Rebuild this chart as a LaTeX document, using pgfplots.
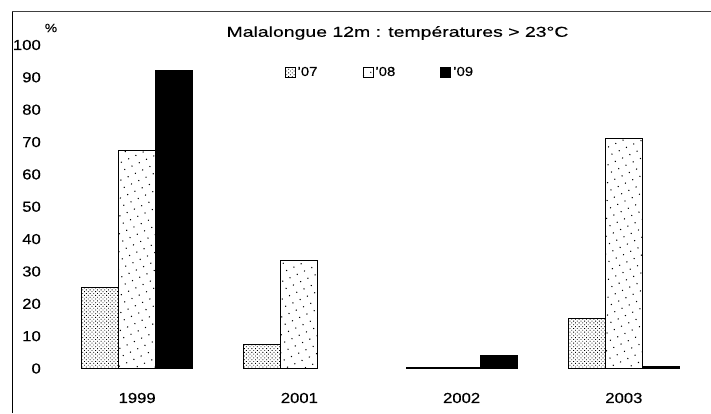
\documentclass[border=0pt]{standalone}
\usepackage{pgfplots}
\pgfplotsset{compat=1.18}
\usepackage{fontspec}
\setmainfont{Liberation Sans}[FakeStretch=1.15, FakeBold=0.4]
\newfontfamily\titlefont{Liberation Sans}[FakeStretch=1.35, FakeBold=0.3]
\usetikzlibrary{patterns.meta}
\begin{document}
\begin{tikzpicture}
\useasboundingbox (0pt,0pt) rectangle (711pt,413pt);
% frame of the original chart (left and top edges)
\draw[black, line width=0.9pt] (12pt,0pt) -- (12pt,401.5pt);
\draw[black!75, line width=0.9pt] (12pt,401.5pt) -- (711pt,401.5pt);
\begin{axis}[
  at={(56pt,44.5pt)}, anchor=south west,
  scale only axis,
  width=649pt, height=323.5pt,
  ybar=0pt, bar width=37pt,
  xmin=-0.5, xmax=3.5,
  ymin=0, ymax=100,
  xtick={0,1,2,3},
  xticklabels={1999,2001,2002,2003},
  ytick={0,10,...,100},
  axis line style={draw=none},
  tick style={draw=none},
  major tick length=0pt,
  /pgf/number format/assume math mode=true,
  yticklabel style={font=\fontsize{14.5}{16}\selectfont, anchor=east, inner sep=0pt, xshift=-15pt},
  xticklabel style={font=\fontsize{14.5}{16}\selectfont, anchor=center, inner sep=0pt, yshift=-29.5pt},
  legend columns=3,
  legend style={at={(0.352,0.916)}, anchor=west, draw=none, fill=none, inner sep=0pt,
    font=\fontsize{13}{15}\selectfont,
    /tikz/every even column/.append style={column sep=43pt}},
  legend image code/.code={\draw[#1, line width=0.9pt] (0pt,-5pt) rectangle (10pt,5pt);},
  clip=false,
]
\addplot[draw=black, line width=1pt, pattern={Dots[distance=2.6pt, radius=0.6pt, angle=45]}, pattern color=black]
  coordinates {(0,25) (1,7.5) (2,0.4) (3,15.5)};
\addplot[draw=black, line width=1pt, fill=white, pattern={Dots[distance=8pt, radius=0.75pt, angle=25]}, pattern color=black]
  coordinates {(0,67.5) (1,33.5) (2,0.4) (3,71)};
\addplot[draw=black, line width=1pt, fill=black]
  coordinates {(0,92) (2,4) (3,0.5)};
\legend{’07,’08,’09}
\end{axis}
\node[font=\titlefont\fontsize{14.4}{16}\selectfont, inner sep=0pt] at (397.5pt,380pt) {Malalongue 12m : températures > 23°C};
\node[font=\fontsize{12}{14}\selectfont, inner sep=0pt] at (51pt,385pt) {\%};
\end{tikzpicture}
\end{document}
